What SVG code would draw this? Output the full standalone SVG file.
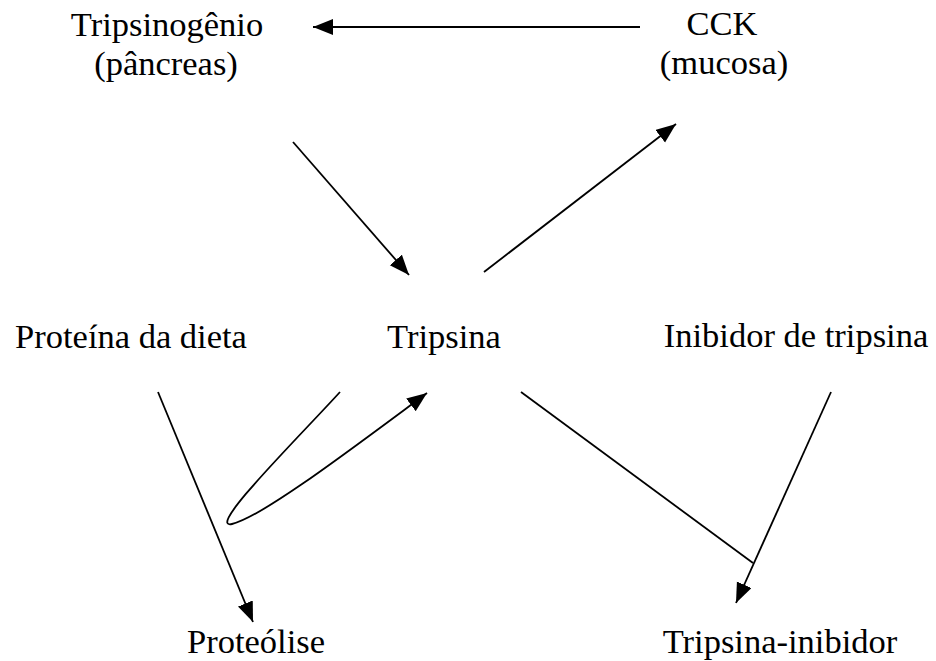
<svg xmlns="http://www.w3.org/2000/svg" width="936" height="661" viewBox="0 0 936 661">
<style>
.t{font-family:"Liberation Serif","Times New Roman",serif;font-size:34.5px;fill:#000;text-anchor:middle}
.c{fill:none;stroke:#000;stroke-width:1.8}
</style>
<defs>
<marker id="ah" markerUnits="userSpaceOnUse" markerWidth="22" markerHeight="18" refX="20" refY="8" orient="auto">
<path d="M0,0 L20,8 L0,16 z" fill="#000"/>
</marker>
</defs>
<rect width="936" height="661" fill="#fff"/>
<g id="connectors">
<line class="c" x1="640" y1="27" x2="313" y2="27" marker-end="url(#ah)"/>
<line class="c" x1="293" y1="142" x2="409" y2="275" marker-end="url(#ah)"/>
<line class="c" x1="484" y1="272" x2="676" y2="124" marker-end="url(#ah)"/>
<path class="c" d="M340,392 C300,436 205,530 232,524 C262,517 350,450 427,393" marker-end="url(#ah)"/>
<line class="c" x1="158" y1="392" x2="253" y2="622" marker-end="url(#ah)"/>
<line class="c" x1="521" y1="392" x2="753" y2="563"/>
<line class="c" x1="831" y1="392" x2="736" y2="603" marker-end="url(#ah)"/>
</g>
<g id="tripsinogenio"><text class="t" x="167" y="36">Tripsinogênio</text><text class="t" x="166" y="75">(pâncreas)</text></g>
<g id="cck"><text class="t" x="722" y="35">CCK</text><text class="t" x="724" y="74">(mucosa)</text></g>
<g id="proteina"><text class="t" x="131" y="348">Proteína da dieta</text></g>
<g id="tripsina"><text class="t" x="444" y="348">Tripsina</text></g>
<g id="inibidor"><text class="t" x="796" y="347">Inibidor de tripsina</text></g>
<g id="proteolise"><text class="t" x="256" y="653">Proteólise</text></g>
<g id="tripsina-inibidor"><text class="t" x="780" y="653">Tripsina-inibidor</text></g>
</svg>
